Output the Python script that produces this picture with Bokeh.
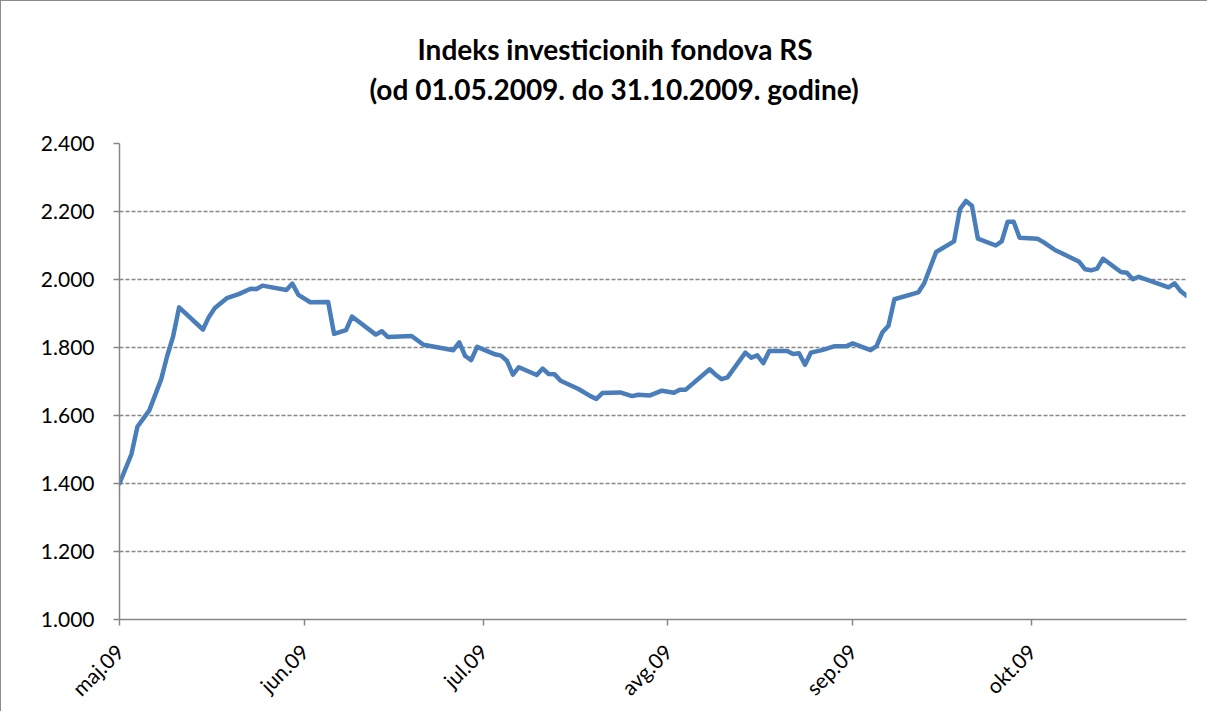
import pandas as pd
from bokeh.plotting import figure
from bokeh.models import (FixedTicker, CustomJSTickFormatter, Range1d,
                          ColumnDataSource, Title)
from bokeh.embed import file_html
from bokeh.resources import INLINE

title_line1 = "Indeks investicionih fondova RS"
title_line2 = "(od 01.05.2009. do 31.10.2009. godine)"

dates = [
    "2009-05-01", "2009-05-03", "2009-05-04", "2009-05-06", "2009-05-08", "2009-05-09",
    "2009-05-10", "2009-05-11", "2009-05-15", "2009-05-16", "2009-05-17", "2009-05-19",
    "2009-05-21", "2009-05-23", "2009-05-24", "2009-05-25", "2009-05-29", "2009-05-30",
    "2009-05-31",
    "2009-06-02", "2009-06-05", "2009-06-06", "2009-06-08", "2009-06-09", "2009-06-13",
    "2009-06-14", "2009-06-15", "2009-06-19", "2009-06-21", "2009-06-26", "2009-06-27",
    "2009-06-28", "2009-06-29", "2009-06-30",
    "2009-07-03", "2009-07-04", "2009-07-05", "2009-07-06", "2009-07-07", "2009-07-10",
    "2009-07-11", "2009-07-12", "2009-07-13", "2009-07-14", "2009-07-17", "2009-07-19",
    "2009-07-20", "2009-07-21", "2009-07-24", "2009-07-26", "2009-07-27", "2009-07-29",
    "2009-07-31",
    "2009-08-02", "2009-08-03", "2009-08-04", "2009-08-08", "2009-08-09", "2009-08-10",
    "2009-08-11", "2009-08-14", "2009-08-15", "2009-08-16", "2009-08-17", "2009-08-18",
    "2009-08-21", "2009-08-22", "2009-08-23", "2009-08-24", "2009-08-25", "2009-08-27",
    "2009-08-29", "2009-08-31",
    "2009-09-01", "2009-09-04", "2009-09-05", "2009-09-06", "2009-09-07", "2009-09-08",
    "2009-09-12", "2009-09-13", "2009-09-15", "2009-09-18", "2009-09-19", "2009-09-20",
    "2009-09-21", "2009-09-22", "2009-09-25", "2009-09-26", "2009-09-27", "2009-09-28",
    "2009-09-29",
    "2009-10-02", "2009-10-03", "2009-10-05", "2009-10-06", "2009-10-09", "2009-10-10",
    "2009-10-11", "2009-10-12", "2009-10-13", "2009-10-16", "2009-10-17", "2009-10-18",
    "2009-10-19", "2009-10-24", "2009-10-25", "2009-10-26", "2009-10-27",
]
values = [
    1400, 1486, 1567, 1615, 1707, 1775,
    1833, 1918, 1853, 1890, 1916, 1945,
    1957, 1973, 1972, 1982, 1969, 1988,
    1955,
    1933, 1934, 1840, 1851, 1891, 1838,
    1848, 1831, 1834, 1808, 1792, 1815,
    1775, 1763, 1802,
    1780, 1776, 1761, 1720, 1742, 1719,
    1738, 1722, 1721, 1702, 1678, 1657,
    1649, 1666, 1668, 1657, 1661, 1659,
    1673,
    1667, 1676, 1676, 1736, 1720, 1707,
    1712, 1785, 1770, 1777, 1754, 1790,
    1790, 1781, 1783, 1749, 1785, 1793,
    1804, 1804,
    1812, 1792, 1804, 1845, 1864, 1942,
    1962, 1989, 2081, 2112, 2207, 2231,
    2217, 2120, 2100, 2112, 2170, 2170,
    2123,
    2120, 2110, 2086, 2078, 2052, 2030,
    2027, 2032, 2061, 2022, 2020, 2001,
    2008, 1977, 1989, 1966, 1952,
]

y_ticks = [1000, 1200, 1400, 1600, 1800, 2000, 2200, 2400]
y_tick_labels = ["1.000", "1.200", "1.400", "1.600", "1.800", "2.000", "2.200", "2.400"]
month_starts = ["2009-05-01", "2009-06-01", "2009-07-01", "2009-08-01", "2009-09-01", "2009-10-01"]
month_labels = ["maj.09", "jun.09", "jul.09", "avg.09", "sep.09", "okt.09"]

x = pd.to_datetime(dates)
src = ColumnDataSource(dict(x=x, y=values))

def ms(d):
    return float(pd.Timestamp(d).value // 10**6)

month_ticks = [ms(d) for d in month_starts]

FONT = "Lato"
GRAY = "#868686"
JS = "const i = tvals.indexOf(tick); return i >= 0 ? tlabels[i] : '';"

p = figure(width=1207, height=711, x_axis_type="datetime",
           output_backend="svg", toolbar_location=None,
           x_range=Range1d(x[0], x[-1]), y_range=Range1d(1000, 2400),
           min_border_left=118, min_border_right=22,
           min_border_top=142, min_border_bottom=88)
p.title.visible = False
p.outline_line_color = None
p.background_fill_color = "white"
p.border_fill_color = "white"
p.styles = {"border-left": "1px solid #8c8c8c", "border-top": "1px solid #8c8c8c"}

p.line("x", "y", source=src, line_color="#4a7ebb", line_width=4.5,
       line_join="round", line_cap="round")

p.xgrid.grid_line_color = None
p.ygrid.grid_line_color = GRAY
p.ygrid.grid_line_dash = "4 2"
p.ygrid.grid_line_width = 1.3

p.yaxis.ticker = FixedTicker(ticks=y_ticks)
p.yaxis.formatter = CustomJSTickFormatter(
    args=dict(tvals=y_ticks, tlabels=y_tick_labels), code=JS)
p.xaxis.ticker = FixedTicker(ticks=month_ticks)
p.xaxis.formatter = CustomJSTickFormatter(
    args=dict(tvals=month_ticks, tlabels=month_labels), code=JS)
p.xaxis.major_label_orientation = 0.785398

for ax in (p.xaxis[0], p.yaxis[0]):
    ax.axis_line_color = GRAY
    ax.axis_line_width = 1.5
    ax.major_tick_line_color = GRAY
    ax.major_tick_line_width = 1.5
    ax.major_tick_in = 0
    ax.major_tick_out = 6
    ax.minor_tick_line_color = None
    ax.major_label_text_font = FONT
    ax.major_label_text_font_size = "21px"
    ax.major_label_text_color = "black"
p.yaxis.major_label_standoff = 19
p.xaxis.major_label_standoff = 22

# title: spacer (nearest the frame), then the two title lines
p.add_layout(Title(text=" ", text_font_size="1px", standoff=35), "above")
p.add_layout(Title(text=title_line2, align="left", offset=250, standoff=0,
                   text_font=FONT, text_font_style="bold",
                   text_font_size="28px", text_color="black"), "above")
p.add_layout(Title(text=title_line1, align="left", offset=298, standoff=8,
                   text_font=FONT, text_font_style="bold",
                   text_font_size="28px", text_color="black"), "above")

open("out.html", "w").write(file_html(p, INLINE))
